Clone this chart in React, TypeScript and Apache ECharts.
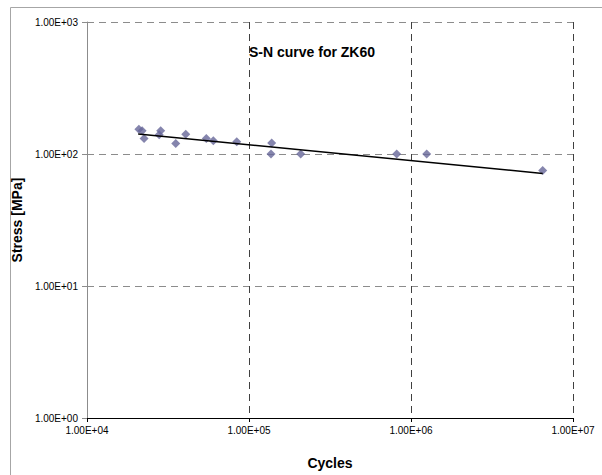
import React, { useEffect, useRef } from "react";
import * as echarts from "echarts";

const cycles = [20900, 21900, 22500, 28500, 27900, 35300, 40700, 54500, 60200, 84000, 138000, 136700, 208500, 816000, 1250000, 6500000];
const stress = [154, 150, 131, 150, 140, 120, 141, 131, 126, 124, 121, 100, 100, 100, 100, 75];
const trendCycles = [20700, 6500000];
const trendStress = [142, 71.3];
const xTickLabels = ["1.00E+04", "1.00E+05", "1.00E+06", "1.00E+07"];
const yTickLabels = ["1.00E+00", "1.00E+01", "1.00E+02", "1.00E+03"];

const FONT = "'Liberation Sans', Arial, sans-serif";

export default function App() {
  const ref = useRef<HTMLDivElement>(null);
  useEffect(() => {
    if (!ref.current) return;
    const chart = echarts.init(ref.current, undefined, { renderer: "svg" });
    const points = cycles.map((c, i) => [c, stress[i]]);
    const trend = trendCycles.map((c, i) => [c, trendStress[i]]);
    chart.setOption({
      animation: false,
      backgroundColor: "#ffffff",
      textStyle: { fontFamily: FONT },
      title: {
        text: "S-N curve for ZK60",
        left: 249,
        top: 45,
        padding: 0,
        textStyle: { fontFamily: FONT, fontSize: 14, fontWeight: "bold", color: "#000" },
      },
      graphic: [
        {
          type: "rect",
          shape: { x: 10.5, y: 7.5, width: 640, height: 520 },
          style: { fill: "none", stroke: "#a6a6a6", lineWidth: 1 },
          silent: true,
          z: -10,
        },
      ],
      grid: { left: 87, top: 22, right: 29, bottom: 51, containLabel: false },
      xAxis: {
        type: "log",
        logBase: 10,
        min: 1e4,
        max: 1e7,
        name: "Cycles",
        nameLocation: "middle",
        nameGap: 38,
        nameTextStyle: { fontFamily: FONT, fontSize: 14, fontWeight: "bold", color: "#000" },
        axisLine: { lineStyle: { color: "#000", width: 1 } },
        axisTick: { show: true, length: 4, lineStyle: { color: "#000" } },
        axisLabel: {
          fontFamily: FONT,
          fontSize: 10,
          color: "#000",
          margin: 7,
          formatter: (v: number) => xTickLabels[Math.round(Math.log10(v)) - 4],
        },
        splitLine: { show: true, lineStyle: { color: "#404040", type: [7, 5], width: 1 } },
      },
      yAxis: {
        type: "log",
        logBase: 10,
        min: 1,
        max: 1000,
        name: "Stress [MPa]",
        nameLocation: "middle",
        nameGap: 60,
        nameRotate: 90,
        nameTextStyle: { fontFamily: FONT, fontSize: 14, fontWeight: "bold", color: "#000" },
        axisLine: { show: true, lineStyle: { color: "#8c8c8c", width: 1 } },
        axisTick: { show: true, length: 5, lineStyle: { color: "#8c8c8c" } },
        axisLabel: {
          fontFamily: FONT,
          fontSize: 10,
          color: "#000",
          margin: 9,
          formatter: (v: number) => yTickLabels[Math.round(Math.log10(v))],
        },
        splitLine: { show: true, lineStyle: { color: "#8c8c8c", type: [7, 5], width: 1 } },
      },
      series: [
        {
          type: "scatter",
          data: points,
          symbol: "diamond",
          symbolSize: 9,
          itemStyle: { color: "#666699" },
          z: 2,
        },
        {
          type: "line",
          data: trend,
          showSymbol: false,
          symbol: "none",
          lineStyle: { color: "#000", width: 1.5 },
          z: 3,
        },
      ],
    });
    return () => chart.dispose();
  }, []);
  return (
    <div
      ref={ref}
      style={{ position: "fixed", left: 0, top: 0, width: 602, height: 475, background: "#fff" }}
    />
  );
}
